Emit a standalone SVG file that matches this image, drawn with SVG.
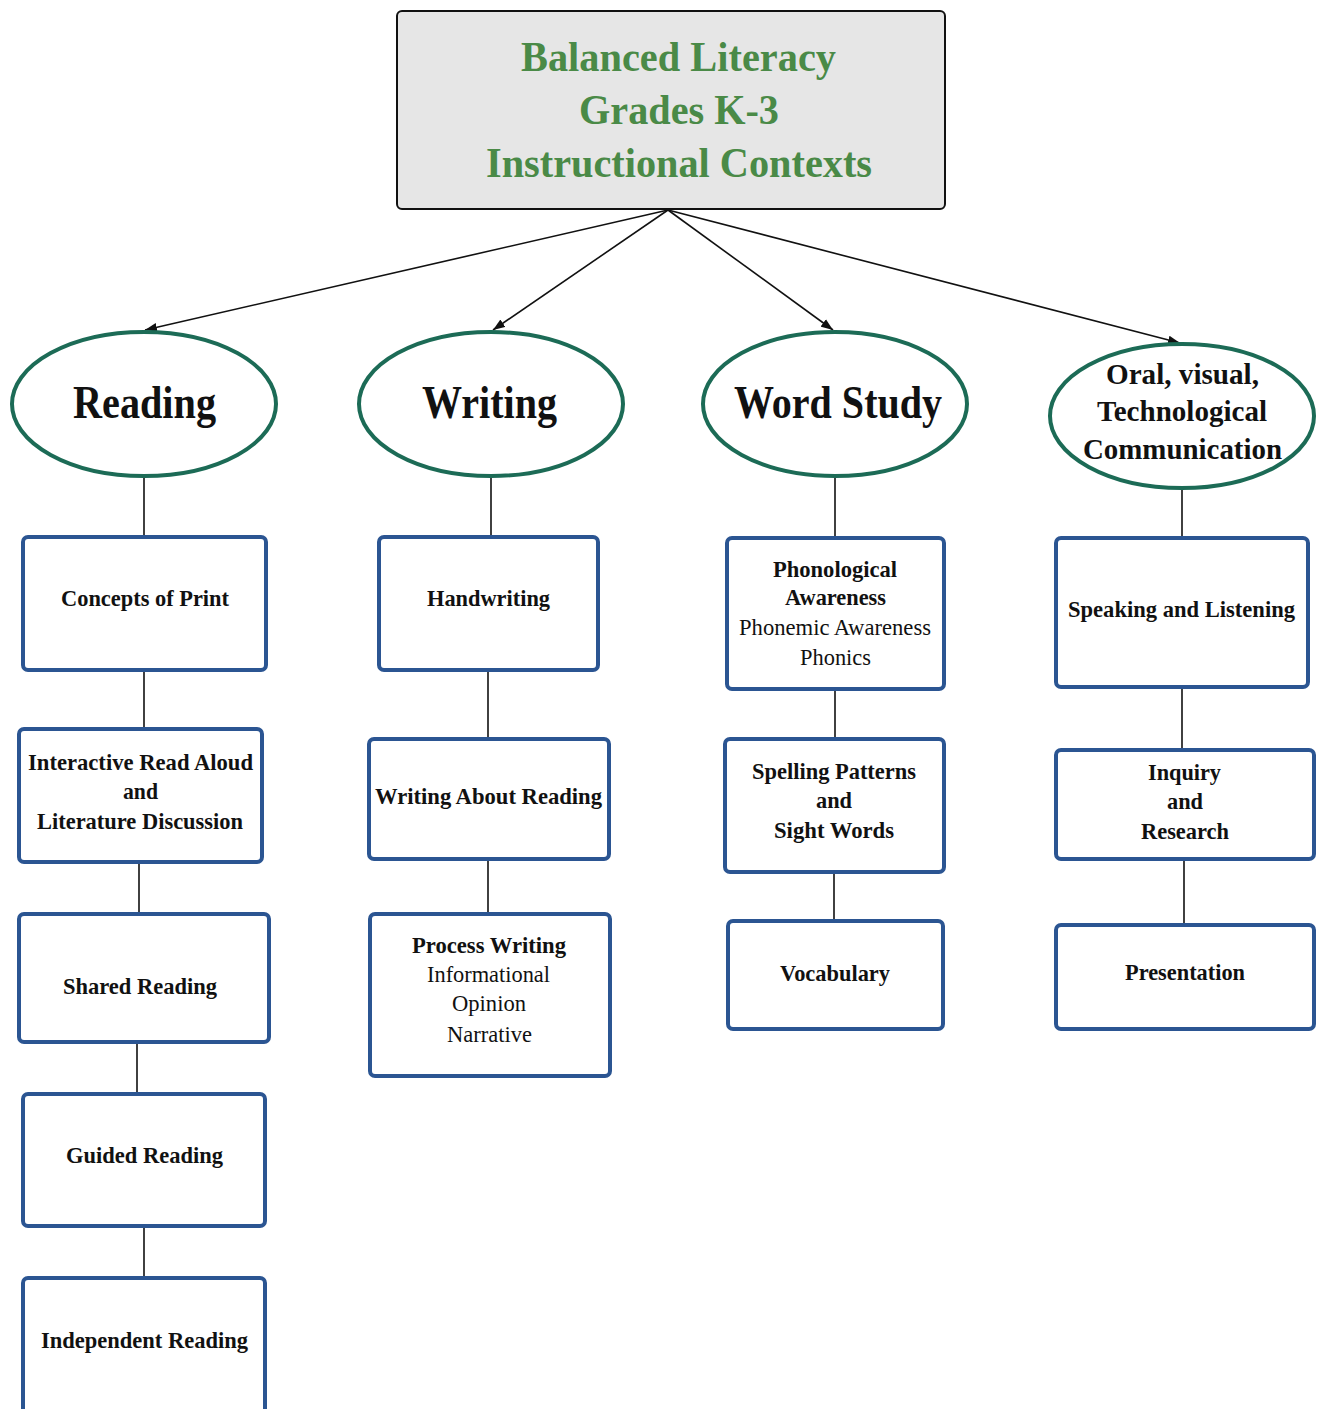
<svg xmlns="http://www.w3.org/2000/svg" width="1322" height="1409" viewBox="0 0 1322 1409">
<style>
text{font-family:"Liberation Serif","Times New Roman",serif;text-anchor:middle;fill:#111}
.t{font-size:43px;font-weight:bold;fill:#4a8a47}
.e{font-size:46px;font-weight:bold}
.o{font-size:30px;font-weight:bold}
.b{font-size:24px;font-weight:bold}
.r{font-size:24px;font-weight:normal}
.ell{fill:#fff;stroke:#1c6b56;stroke-width:4}
.box{fill:#fff;stroke:#2b5592;stroke-width:4}
.c{stroke:#111;stroke-width:1.6;fill:none}
</style>
<defs>
<marker id="ah" viewBox="0 0 12 10" refX="12" refY="5" markerWidth="12" markerHeight="10" markerUnits="userSpaceOnUse" orient="auto">
<path d="M0,0.5 L12,5 L0,9.5 z" fill="#111"/>
</marker>
</defs>
<rect width="1322" height="1409" fill="#fff"/>
<g id="connectors">
<line class="c" x1="668" y1="210" x2="145" y2="330" marker-end="url(#ah)"/>
<line class="c" x1="668" y1="210" x2="493" y2="330" marker-end="url(#ah)"/>
<line class="c" x1="668" y1="210" x2="833" y2="330" marker-end="url(#ah)"/>
<line class="c" x1="668" y1="210" x2="1180" y2="343" marker-end="url(#ah)"/>
<line class="c" x1="144" y1="476" x2="144" y2="536"/>
<line class="c" x1="144" y1="670" x2="144" y2="728"/>
<line class="c" x1="139" y1="862" x2="139" y2="913"/>
<line class="c" x1="137" y1="1042" x2="137" y2="1093"/>
<line class="c" x1="144" y1="1226" x2="144" y2="1277"/>
<line class="c" x1="491" y1="476" x2="491" y2="536"/>
<line class="c" x1="488" y1="670" x2="488" y2="738"/>
<line class="c" x1="488" y1="859" x2="488" y2="913"/>
<line class="c" x1="835" y1="476" x2="835" y2="537"/>
<line class="c" x1="835" y1="689" x2="835" y2="738"/>
<line class="c" x1="834" y1="872" x2="834" y2="920"/>
<line class="c" x1="1182" y1="489" x2="1182" y2="537"/>
<line class="c" x1="1182" y1="687" x2="1182" y2="749"/>
<line class="c" x1="1184" y1="859" x2="1184" y2="924"/>
</g>
<g id="title">
<rect x="397" y="11" width="548" height="198" rx="5" fill="#e6e6e6" stroke="#111" stroke-width="2"/>
<text class="t" x="678.5" y="71" textLength="315" lengthAdjust="spacingAndGlyphs">Balanced Literacy</text>
<text class="t" x="679" y="124" textLength="200" lengthAdjust="spacingAndGlyphs">Grades K-3</text>
<text class="t" x="679" y="177" textLength="386" lengthAdjust="spacingAndGlyphs">Instructional Contexts</text>
</g>
<g id="reading">
<ellipse class="ell" cx="144" cy="404" rx="132" ry="72"/>
<text class="e" x="144.5" y="418" textLength="143" lengthAdjust="spacingAndGlyphs">Reading</text>
</g>
<g id="writing">
<ellipse class="ell" cx="491" cy="404" rx="132" ry="72"/>
<text class="e" x="489.5" y="418" textLength="135" lengthAdjust="spacingAndGlyphs">Writing</text>
</g>
<g id="word-study">
<ellipse class="ell" cx="835" cy="404" rx="132" ry="72"/>
<text class="e" x="838" y="418" textLength="208" lengthAdjust="spacingAndGlyphs">Word Study</text>
</g>
<g id="oral">
<ellipse class="ell" cx="1182" cy="416" rx="132" ry="72"/>
<text class="o" x="1182.5" y="384" textLength="153" lengthAdjust="spacingAndGlyphs">Oral, visual,</text>
<text class="o" x="1182" y="421" textLength="170" lengthAdjust="spacingAndGlyphs">Technological</text>
<text class="o" x="1182.5" y="459" textLength="199" lengthAdjust="spacingAndGlyphs">Communication</text>
</g>
<g id="concepts-of-print">
<rect class="box" x="23" y="537" width="243" height="133" rx="5"/>
<text class="b" x="145" y="606" textLength="168" lengthAdjust="spacingAndGlyphs">Concepts of Print</text>
</g>
<g id="interactive-read-aloud">
<rect class="box" x="19" y="729" width="243" height="133" rx="5"/>
<text class="b" x="140.5" y="770" textLength="225" lengthAdjust="spacingAndGlyphs">Interactive Read Aloud</text>
<text class="b" x="140.5" y="799" textLength="35" lengthAdjust="spacingAndGlyphs">and</text>
<text class="b" x="140" y="829" textLength="206" lengthAdjust="spacingAndGlyphs">Literature Discussion</text>
</g>
<g id="shared-reading">
<rect class="box" x="19" y="914" width="250" height="128" rx="5"/>
<text class="b" x="140" y="994" textLength="154" lengthAdjust="spacingAndGlyphs">Shared Reading</text>
</g>
<g id="guided-reading">
<rect class="box" x="23" y="1094" width="242" height="132" rx="5"/>
<text class="b" x="144.5" y="1163" textLength="157" lengthAdjust="spacingAndGlyphs">Guided Reading</text>
</g>
<g id="independent-reading">
<rect class="box" x="23" y="1278" width="242" height="140" rx="5"/>
<text class="b" x="144.5" y="1348" textLength="207" lengthAdjust="spacingAndGlyphs">Independent Reading</text>
</g>
<g id="handwriting">
<rect class="box" x="379" y="537" width="219" height="133" rx="5"/>
<text class="b" x="488.5" y="606" textLength="123" lengthAdjust="spacingAndGlyphs">Handwriting</text>
</g>
<g id="writing-about-reading">
<rect class="box" x="369" y="739" width="240" height="120" rx="5"/>
<text class="b" x="488.5" y="804" textLength="227" lengthAdjust="spacingAndGlyphs">Writing About Reading</text>
</g>
<g id="process-writing">
<rect class="box" x="370" y="914" width="240" height="162" rx="5"/>
<text class="b" x="489" y="953" textLength="154" lengthAdjust="spacingAndGlyphs">Process Writing</text>
<text class="r" x="488.5" y="982" textLength="123" lengthAdjust="spacingAndGlyphs">Informational</text>
<text class="r" x="489" y="1011" textLength="74" lengthAdjust="spacingAndGlyphs">Opinion</text>
<text class="r" x="489.5" y="1042" textLength="85" lengthAdjust="spacingAndGlyphs">Narrative</text>
</g>
<g id="phonological-awareness">
<rect class="box" x="727" y="538" width="217" height="151" rx="5"/>
<text class="b" x="835" y="577" textLength="124" lengthAdjust="spacingAndGlyphs">Phonological</text>
<text class="b" x="835.5" y="605" textLength="101" lengthAdjust="spacingAndGlyphs">Awareness</text>
<text class="r" x="835" y="635" textLength="192" lengthAdjust="spacingAndGlyphs">Phonemic Awareness</text>
<text class="r" x="835.5" y="665" textLength="71" lengthAdjust="spacingAndGlyphs">Phonics</text>
</g>
<g id="spelling-patterns">
<rect class="box" x="725" y="739" width="219" height="133" rx="5"/>
<text class="b" x="834" y="779" textLength="164" lengthAdjust="spacingAndGlyphs">Spelling Patterns</text>
<text class="b" x="834" y="808" textLength="36" lengthAdjust="spacingAndGlyphs">and</text>
<text class="b" x="834" y="838" textLength="120" lengthAdjust="spacingAndGlyphs">Sight Words</text>
</g>
<g id="vocabulary">
<rect class="box" x="728" y="921" width="215" height="108" rx="5"/>
<text class="b" x="835" y="981" textLength="110" lengthAdjust="spacingAndGlyphs">Vocabulary</text>
</g>
<g id="speaking-listening">
<rect class="box" x="1056" y="538" width="252" height="149" rx="5"/>
<text class="b" x="1181.5" y="617" textLength="227" lengthAdjust="spacingAndGlyphs">Speaking and Listening</text>
</g>
<g id="inquiry-research">
<rect class="box" x="1056" y="750" width="258" height="109" rx="5"/>
<text class="b" x="1184.5" y="780" textLength="73" lengthAdjust="spacingAndGlyphs">Inquiry</text>
<text class="b" x="1185" y="809" textLength="36" lengthAdjust="spacingAndGlyphs">and</text>
<text class="b" x="1185" y="839" textLength="88" lengthAdjust="spacingAndGlyphs">Research</text>
</g>
<g id="presentation">
<rect class="box" x="1056" y="925" width="258" height="104" rx="5"/>
<text class="b" x="1185" y="980" textLength="120" lengthAdjust="spacingAndGlyphs">Presentation</text>
</g>
</svg>
